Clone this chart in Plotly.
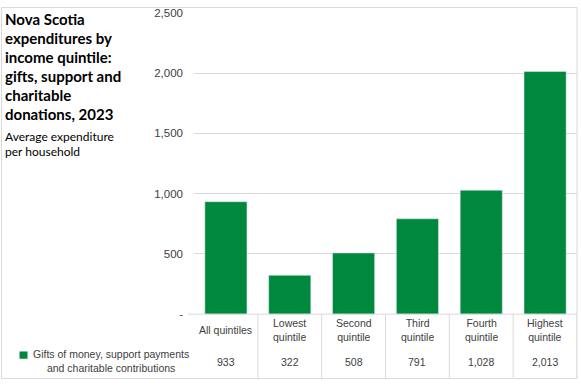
import plotly.graph_objects as go

categories = ["All quintiles", "Lowest quintile", "Second quintile", "Third quintile", "Fourth quintile", "Highest quintile"]
category_labels = ["All quintiles", "Lowest<br>quintile", "Second<br>quintile", "Third<br>quintile", "Fourth<br>quintile", "Highest<br>quintile"]
values = [933, 322, 508, 791, 1028, 2013]
series_name = "Gifts of money, support payments<br>and charitable contributions"
tick_vals = [0, 500, 1000, 1500, 2000, 2500]
tick_text = ["-", "500", "1,000", "1,500", "2,000", "2,500"]
title_lines = ["Nova Scotia", "expenditures by", "income quintile:", "gifts, support and", "charitable", "donations, 2023"]
subtitle_lines = ["Average expenditure", "per household"]

W, H = 581, 388
GREEN = "#00893E"
GRID = "#d9d9d9"
TXT = "#404040"

def px(x):
    return x / W

def py(y):
    return 1 - y / H

x_left, x_right = 194, 577
y_top, y_bottom = 7, 318

fig = go.Figure()
fig.add_trace(go.Bar(x=list(range(len(categories))), y=values, marker_color=GREEN,
                     name=series_name.replace("<br>", " "), hoverinfo="y"))

shapes = []
annotations = []

# outer border
shapes.append(dict(type="rect", xref="paper", yref="paper", x0=px(1.5), x1=px(577), y0=py(384.5), y1=py(1.5),
                   line=dict(color=GRID, width=1), fillcolor="rgba(0,0,0,0)", layer="below"))
# axis line extended left
shapes.append(dict(type="line", xref="paper", yref="paper", x0=px(188), x1=px(577), y0=py(y_bottom), y1=py(y_bottom),
                   line=dict(color=GRID, width=1)))
# table vertical separators
n = len(categories)
for i in range(n):
    shapes.append(dict(type="line", xref="x", yref="paper", x0=i + 0.5, x1=i + 0.5, y0=py(384.5), y1=py(y_bottom),
                       line=dict(color=GRID, width=1)))

# category labels and values in the data table
for i, (lab, v) in enumerate(zip(category_labels, values)):
    annotations.append(dict(x=i, xref="x", y=py(334), yref="paper", text=lab, showarrow=False,
                            font=dict(family="Liberation Sans, Arial", size=10.5, color=TXT),
                            xanchor="center", yanchor="middle", align="center"))
    annotations.append(dict(x=i, xref="x", y=py(367), yref="paper", text=f"{v:,}", showarrow=False,
                            font=dict(family="Liberation Sans, Arial", size=10.5, color=TXT),
                            xanchor="center", yanchor="middle"))

# legend key in table
shapes.append(dict(type="rect", xref="paper", yref="paper", x0=px(19.5), x1=px(27.5), y0=py(364), y1=py(356.5),
                   fillcolor=GREEN, line=dict(width=0)))
annotations.append(dict(x=px(111), xref="paper", y=py(366), yref="paper", text=series_name, showarrow=False,
                        font=dict(family="Liberation Sans, Arial", size=10.5, color=TXT),
                        xanchor="center", yanchor="middle", align="center"))

# title
for k, line in enumerate(title_lines):
    annotations.append(dict(x=px(3), xref="paper", y=py(13.5 + 19.5 * k), yref="paper", text=f"<b>{line}</b>",
                            showarrow=False, xanchor="left", yanchor="middle",
                            font=dict(family="Lato", size=15, color="#000000")))
for k, line in enumerate(subtitle_lines):
    annotations.append(dict(x=px(3), xref="paper", y=py(135 + 15.5 * k), yref="paper", text=line,
                            showarrow=False, xanchor="left", yanchor="middle",
                            font=dict(family="Lato", size=12, color="#000000")))

fig.update_layout(
    width=W, height=H,
    margin=dict(l=0, r=0, t=0, b=0),
    paper_bgcolor="white", plot_bgcolor="white",
    showlegend=False,
    bargap=0.34,
    shapes=shapes,
    annotations=annotations,
    xaxis=dict(domain=[px(x_left), px(x_right)], range=[-0.5, n - 0.5], showticklabels=False,
               showgrid=False, zeroline=False, showline=False, ticks=""),
    yaxis=dict(domain=[py(y_bottom), py(y_top)], range=[0, 2500], tickvals=tick_vals, ticktext=tick_text,
               showgrid=True, gridcolor=GRID, gridwidth=1, zeroline=False, showline=False,
               tickfont=dict(family="Liberation Sans, Arial", size=11.5, color=TXT),
               ticks="", ticklabelstandoff=10),
)

page_css = (
    "var s=document.createElement('style');"
    "s.textContent='html,body{margin:0;padding:0;overflow:hidden;width:581px;height:388px;}';"
    "document.head.appendChild(s);"
)
fig.write_html("out.html", config={"displayModeBar": False}, post_script=page_css)
